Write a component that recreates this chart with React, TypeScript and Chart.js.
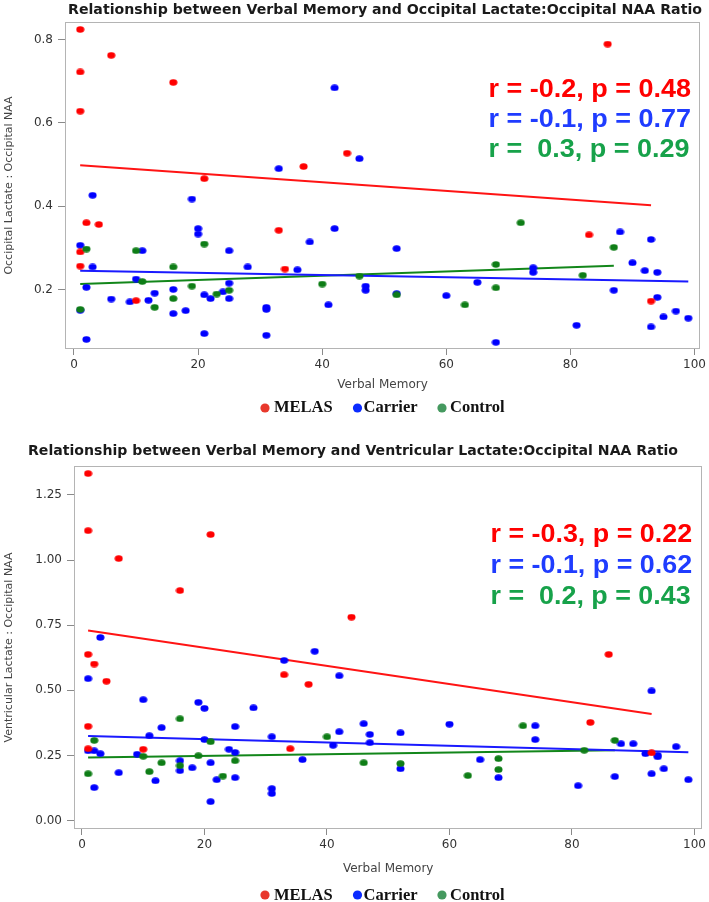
import React, { useEffect, useRef } from "react";
import { Chart, registerables } from "chart.js";

Chart.register(...registerables);

// ---------------- data ----------------
const GROUPS = ["MELAS", "Carrier", "Control"];
const X_TICKS = [0, 20, 40, 60, 80, 100];
const OCC_Y_TICKS = [0.2, 0.4, 0.6, 0.8];
const VENT_Y_TICKS = [0, 0.25, 0.5, 0.75, 1.0, 1.25];

const OCC_TITLE = "Relationship between Verbal Memory and Occipital Lactate:Occipital NAA Ratio";
const VENT_TITLE = "Relationship between Verbal Memory and Ventricular Lactate:Occipital NAA Ratio";
const X_TITLE = "Verbal Memory";
const OCC_Y_TITLE = "Occipital Lactate : Occipital NAA";
const VENT_Y_TITLE = "Ventricular Lactate : Occipital NAA";

// Top panel: Occipital Lactate : Occipital NAA
const occMelasX = [1, 1, 1, 6, 16, 21, 37, 44, 86, 2, 4, 1, 1, 33, 34, 10, 83, 93];
const occMelasY = [0.824, 0.722, 0.628, 0.762, 0.697, 0.466, 0.495, 0.527, 0.789, 0.36, 0.356, 0.29, 0.256, 0.342, 0.249, 0.173, 0.331, 0.172];
const occCarrierX = [3, 19, 33, 42, 46, 1, 3, 2, 1, 2, 6, 9, 10, 11, 12, 13, 16, 16, 18, 20, 20, 21, 21, 22, 24, 25, 25, 25, 28, 31, 31, 31, 36, 38, 41, 42, 52, 47, 47, 60, 65, 68, 74, 74, 81, 87, 88, 90, 92, 93, 94, 94, 93, 95, 97, 99, 52];
const occCarrierY = [0.426, 0.417, 0.49, 0.684, 0.514, 0.306, 0.254, 0.205, 0.15, 0.08, 0.177, 0.17, 0.225, 0.293, 0.174, 0.191, 0.2, 0.142, 0.149, 0.346, 0.333, 0.187, 0.094, 0.178, 0.194, 0.215, 0.293, 0.178, 0.254, 0.157, 0.152, 0.09, 0.247, 0.314, 0.163, 0.346, 0.298, 0.208, 0.198, 0.185, 0.217, 0.073, 0.252, 0.241, 0.114, 0.198, 0.338, 0.264, 0.245, 0.32, 0.241, 0.181, 0.11, 0.134, 0.148, 0.131, 0.19];
const occControlX = [2, 1, 10, 11, 13, 16, 16, 19, 21, 23, 25, 40, 46, 52, 63, 68, 68, 72, 82, 87];
const occControlY = [0.297, 0.152, 0.293, 0.219, 0.157, 0.254, 0.178, 0.208, 0.309, 0.189, 0.198, 0.213, 0.232, 0.187, 0.163, 0.26, 0.204, 0.36, 0.234, 0.301];
const occFitMelasX = [1, 93];
const occFitMelasY = [0.498, 0.402];
const occFitCarrierX = [1, 99];
const occFitCarrierY = [0.245, 0.219];
const occFitControlX = [1, 87];
const occFitControlY = [0.213, 0.257];
const OCC_STATS = ["r = -0.2, p = 0.48", "r = -0.1, p = 0.77", "r =  0.3, p = 0.29"];

// Bottom panel: Ventricular Lactate : Occipital NAA
const ventMelasX = [1, 1, 6, 16, 21, 44, 1, 2, 4, 1, 1, 10, 33, 37, 34, 86, 83, 93];
const ventMelasY = [1.332, 1.113, 1.006, 0.883, 1.098, 0.781, 0.638, 0.601, 0.535, 0.362, 0.276, 0.274, 0.56, 0.523, 0.276, 0.638, 0.377, 0.26];
const ventCarrierX = [3, 33, 38, 1, 1, 2, 3, 2, 6, 9, 10, 11, 12, 13, 16, 16, 18, 19, 20, 20, 21, 21, 22, 24, 25, 25, 25, 28, 31, 31, 31, 36, 41, 42, 42, 46, 47, 47, 52, 52, 60, 65, 68, 74, 74, 81, 87, 88, 90, 92, 93, 93, 94, 94, 95, 97, 99];
const ventCarrierY = [0.703, 0.615, 0.65, 0.545, 0.268, 0.268, 0.257, 0.127, 0.184, 0.255, 0.464, 0.326, 0.153, 0.357, 0.23, 0.192, 0.203, 0.454, 0.431, 0.311, 0.222, 0.073, 0.157, 0.274, 0.361, 0.262, 0.165, 0.433, 0.322, 0.123, 0.104, 0.234, 0.289, 0.341, 0.556, 0.372, 0.331, 0.299, 0.337, 0.199, 0.37, 0.234, 0.165, 0.364, 0.311, 0.134, 0.169, 0.295, 0.295, 0.257, 0.498, 0.18, 0.251, 0.245, 0.199, 0.284, 0.157];
const ventControlX = [1, 2, 10, 11, 13, 16, 16, 19, 21, 23, 25, 40, 46, 52, 63, 68, 68, 72, 82, 87];
const ventControlY = [0.18, 0.308, 0.247, 0.188, 0.222, 0.391, 0.211, 0.249, 0.303, 0.171, 0.23, 0.322, 0.222, 0.219, 0.173, 0.238, 0.196, 0.364, 0.27, 0.308];
const ventFitMelasX = [1, 93];
const ventFitMelasY = [0.73, 0.409];
const ventFitCarrierX = [1, 99];
const ventFitCarrierY = [0.325, 0.263];
const ventFitControlX = [1, 87];
const ventFitControlY = [0.242, 0.27];
const VENT_STATS = ["r = -0.3, p = 0.22", "r = -0.1, p = 0.62", "r =  0.2, p = 0.43"];

// ---------------- styles ----------------
const POINT_COLORS = ["#ff0000", "#0000ff", "#0e7d16"];
const FIT_COLORS = ["#ff1414", "#1a1aff", "#12861a"];
const STAT_COLORS = ["#ff0000", "#1f3cff", "#17a24a"];
const LEGEND_COLORS = ["#e8382c", "#0b2bff", "#45995f"];
const SANS = "'DejaVu Sans', sans-serif";

const pts = (xs: number[], ys: number[]) => xs.map((x, i) => ({ x, y: ys[i] }));

function makeDot(color: string): HTMLCanvasElement {
  const c = document.createElement("canvas");
  c.width = 9;
  c.height = 7;
  const g = c.getContext("2d")!;
  g.fillStyle = color;
  g.beginPath();
  g.ellipse(4.5, 3.5, 4.0, 3.2, 0, 0, Math.PI * 2);
  g.fill();
  return c;
}

function stretchText(ctx: CanvasRenderingContext2D, text: string, x: number, y: number, sx: number) {
  ctx.save();
  ctx.translate(x, y);
  ctx.scale(sx, 1);
  ctx.fillText(text, 0, 0);
  ctx.restore();
}

interface PanelSpec {
  top: number;
  height: number;
  title: string;
  yTitle: string;
  yTicks: number[];
  yDecimals: number;
  xMin: number;
  xMax: number;
  yMin: number;
  yMax: number;
  series: { xs: number[]; ys: number[] }[];
  fits: { xs: number[]; ys: number[] }[];
  stats: string[];
  padTop: number;
  padBottom: number;
  yAxisWidth: number;
  xAxisHeight: number;
  yTitlePad: number;
  titleX: number;
  titleBase: number;
  titleWidth: number;
  statsX: number;
  statsBase: number[];
  statsWidth: number;
  legendBase: number;
  legendDotY: number;
}

const LEGEND_DOT_X = [265, 357.5, 442];
const LEGEND_TEXT_X = [274, 363.5, 450];

function Panel({ spec }: { spec: PanelSpec }) {
  const ref = useRef<HTMLCanvasElement | null>(null);
  useEffect(() => {
    const canvas = ref.current;
    if (!canvas) return;
    const dots = POINT_COLORS.map(makeDot);
    const orders = [2, 3, 1];
    const datasets: any[] = [];
    spec.series.forEach((s, i) => {
      datasets.push({
        label: GROUPS[i],
        data: pts(s.xs, s.ys),
        pointStyle: dots[i],
        pointRadius: 4,
        pointHoverRadius: 4,
        backgroundColor: POINT_COLORS[i],
        borderColor: POINT_COLORS[i],
        showLine: false,
        order: orders[i],
      });
    });
    spec.fits.forEach((f, i) => {
      datasets.push({
        label: GROUPS[i] + " fit",
        data: pts(f.xs, f.ys),
        showLine: true,
        borderColor: FIT_COLORS[i],
        borderWidth: 2,
        pointRadius: 0,
        fill: false,
        order: 10,
      });
    });

    const decor = {
      id: "decor",
      beforeDatasetsDraw(chart: any) {
        const { ctx, chartArea: a } = chart;
        ctx.save();
        ctx.strokeStyle = "#b4b4b4";
        ctx.lineWidth = 1;
        ctx.strokeRect(Math.round(a.left) + 0.5, Math.round(a.top) + 0.5, Math.round(a.right - a.left) - 1, Math.round(a.bottom - a.top) - 1);
        ctx.restore();
      },
      afterDraw(chart: any) {
        const ctx: CanvasRenderingContext2D = chart.ctx;
        ctx.save();
        // title
        ctx.font = `bold 14px ${SANS}`;
        ctx.fillStyle = "#1a1a1a";
        ctx.textAlign = "left";
        ctx.textBaseline = "alphabetic";
        const tw = ctx.measureText(spec.title).width;
        stretchText(ctx, spec.title, spec.titleX, spec.titleBase, spec.titleWidth / tw);
        // statistics
        ctx.font = "bold 25px 'Liberation Sans', Arial, sans-serif";
        const sw = ctx.measureText(spec.stats[0]).width;
        spec.stats.forEach((t, i) => {
          ctx.fillStyle = STAT_COLORS[i];
          stretchText(ctx, t, spec.statsX, spec.statsBase[i], spec.statsWidth / sw);
        });
        // legend
        ctx.font = "bold 16.5px 'Liberation Serif', 'Times New Roman', serif";
        GROUPS.forEach((g, i) => {
          ctx.fillStyle = LEGEND_COLORS[i];
          ctx.beginPath();
          ctx.arc(LEGEND_DOT_X[i], spec.legendDotY, 4.6, 0, Math.PI * 2);
          ctx.fill();
          ctx.fillStyle = "#111";
          ctx.fillText(g, LEGEND_TEXT_X[i], spec.legendBase);
        });
        ctx.restore();
      },
    };

    const chart = new Chart(canvas, {
      type: "scatter",
      data: { datasets },
      plugins: [decor],
      options: {
        responsive: false,
        animation: false,
        devicePixelRatio: 1,
        events: [],
        layout: { padding: { top: spec.padTop, left: 0, right: 6, bottom: spec.padBottom } },
        plugins: {
          legend: { display: false },
          tooltip: { enabled: false },
          title: { display: false },
        },
        scales: {
          x: {
            type: "linear",
            min: spec.xMin,
            max: spec.xMax,
            afterBuildTicks: (s: any) => {
              s.ticks = X_TICKS.map((v) => ({ value: v }));
            },
            afterFit: (s: any) => {
              s.height = spec.xAxisHeight;
            },
            grid: { display: true, drawOnChartArea: false, drawTicks: true, tickLength: 6, color: "#8a8a8a" },
            border: { display: false },
            ticks: {
              padding: 3,
              color: "#333",
              font: { family: SANS, size: 12 },
              maxRotation: 0,
              callback: (v: any) => String(v),
            },
            title: {
              display: true,
              text: X_TITLE,
              color: "#444",
              font: { family: SANS, size: 12 },
              padding: { top: 0, bottom: 0 },
            },
          },
          y: {
            type: "linear",
            min: spec.yMin,
            max: spec.yMax,
            afterBuildTicks: (s: any) => {
              s.ticks = spec.yTicks.map((v) => ({ value: v }));
            },
            afterFit: (s: any) => {
              s.width = spec.yAxisWidth;
            },
            grid: { display: true, drawOnChartArea: false, drawTicks: true, tickLength: 7, color: "#8a8a8a" },
            border: { display: false },
            ticks: {
              padding: 5,
              color: "#333",
              font: { family: SANS, size: 12 },
              callback: (v: any) => Number(v).toFixed(spec.yDecimals),
            },
            title: {
              display: true,
              text: spec.yTitle,
              color: "#444",
              font: { family: SANS, size: 11 },
              padding: { top: spec.yTitlePad, bottom: 0 },
            },
          },
        },
      } as any,
    });
    return () => chart.destroy();
  }, [spec]);

  return (
    <div style={{ position: "absolute", left: 0, top: spec.top, width: 709, height: spec.height }}>
      <canvas ref={ref} width={709} height={spec.height} style={{ display: "block", width: 709, height: spec.height }} />
    </div>
  );
}

const TOP_SPEC: PanelSpec = {
  top: 0,
  height: 430,
  title: OCC_TITLE,
  yTitle: OCC_Y_TITLE,
  yTicks: OCC_Y_TICKS,
  yDecimals: 1,
  xMin: -1.45,
  xMax: 100.9,
  yMin: 0.057,
  yMax: 0.842,
  series: [
    { xs: occMelasX, ys: occMelasY },
    { xs: occCarrierX, ys: occCarrierY },
    { xs: occControlX, ys: occControlY },
  ],
  fits: [
    { xs: occFitMelasX, ys: occFitMelasY },
    { xs: occFitCarrierX, ys: occFitCarrierY },
    { xs: occFitControlX, ys: occFitControlY },
  ],
  stats: OCC_STATS,
  padTop: 22,
  padBottom: 38,
  yAxisWidth: 65,
  xAxisHeight: 43,
  yTitlePad: 3,
  titleX: 68,
  titleBase: 14,
  titleWidth: 634,
  statsX: 488.5,
  statsBase: [97, 127, 157],
  statsWidth: 202.5,
  legendBase: 412.3,
  legendDotY: 408,
};

const BOTTOM_SPEC: PanelSpec = {
  top: 440,
  height: 462,
  title: VENT_TITLE,
  yTitle: VENT_Y_TITLE,
  yTicks: VENT_Y_TICKS,
  yDecimals: 2,
  xMin: -1.3,
  xMax: 101.3,
  yMin: -0.032,
  yMax: 1.361,
  series: [
    { xs: ventMelasX, ys: ventMelasY },
    { xs: ventCarrierX, ys: ventCarrierY },
    { xs: ventControlX, ys: ventControlY },
  ],
  fits: [
    { xs: ventFitMelasX, ys: ventFitMelasY },
    { xs: ventFitCarrierX, ys: ventFitCarrierY },
    { xs: ventFitControlX, ys: ventFitControlY },
  ],
  stats: VENT_STATS,
  padTop: 26,
  padBottom: 26,
  yAxisWidth: 74,
  xAxisHeight: 47,
  yTitlePad: 3,
  titleX: 28,
  titleBase: 15,
  titleWidth: 650,
  statsX: 490.5,
  statsBase: [102, 133, 164],
  statsWidth: 201.6,
  legendBase: 459.5,
  legendDotY: 455,
};

export default function App() {
  return (
    <div style={{ position: "absolute", left: 0, top: 0, width: 709, height: 902, background: "#fff", overflow: "hidden" }}>
      <Panel spec={TOP_SPEC} />
      <Panel spec={BOTTOM_SPEC} />
    </div>
  );
}
